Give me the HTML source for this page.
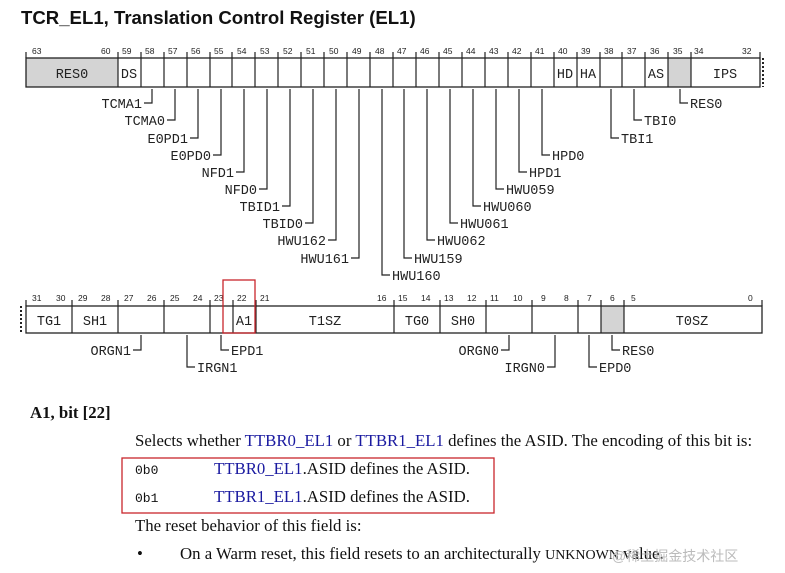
<!DOCTYPE html>
<html><head><meta charset="utf-8"><style>
html,body{margin:0;padding:0;background:#fff;}
body{width:785px;height:573px;overflow:hidden;position:relative;}
.s{font-family:"Liberation Serif",serif;font-size:16.8px;color:#111;position:absolute;white-space:nowrap;}
.l{color:#1a1aa0;}
.m{font-family:"Liberation Mono",monospace;font-size:13px;}
</style></head><body>
<svg width="785" height="573" style="position:absolute;left:0;top:0" xmlns="http://www.w3.org/2000/svg">
<text x="21" y="24" font-family="Liberation Sans,sans-serif" font-weight="bold" font-size="18.6" fill="#111">TCR_EL1, Translation Control Register (EL1)</text>
<g font-family="Liberation Sans,sans-serif" font-size="8.5" fill="#222">
<text x="32" y="54">63</text><text x="101" y="54">60</text><text x="122" y="54">59</text><text x="145" y="54">58</text><text x="168" y="54">57</text><text x="191" y="54">56</text><text x="214" y="54">55</text><text x="237" y="54">54</text><text x="260" y="54">53</text><text x="283" y="54">52</text><text x="306" y="54">51</text><text x="329" y="54">50</text><text x="352" y="54">49</text><text x="375" y="54">48</text><text x="397" y="54">47</text><text x="420" y="54">46</text><text x="443" y="54">45</text><text x="466" y="54">44</text><text x="489" y="54">43</text><text x="512" y="54">42</text><text x="535" y="54">41</text><text x="558" y="54">40</text><text x="581" y="54">39</text><text x="604" y="54">38</text><text x="627" y="54">37</text><text x="650" y="54">36</text><text x="673" y="54">35</text><text x="694" y="54">34</text><text x="742" y="54">32</text>
</g>
<rect x="26" y="58" width="92" height="29" fill="#d4d4d4"/>
<rect x="668" y="58" width="23" height="29" fill="#d4d4d4"/>
<rect x="26" y="58" width="734" height="29" fill="none" stroke="#222" stroke-width="1.3"/>
<g stroke="#222" stroke-width="1.2">
<path d="M118 58V87M141 58V87M164 58V87M187 58V87M210 58V87M232 58V87M255 58V87M278 58V87M301 58V87M324 58V87M347 58V87M370 58V87M393 58V87M416 58V87M439 58V87M462 58V87M485 58V87M508 58V87M531 58V87M554 58V87M577 58V87M600 58V87M622 58V87M645 58V87M668 58V87M691 58V87"/>
<path d="M26 52V58M118 52V58M141 52V58M164 52V58M187 52V58M210 52V58M232 52V58M255 52V58M278 52V58M301 52V58M324 52V58M347 52V58M370 52V58M393 52V58M416 52V58M439 52V58M462 52V58M485 52V58M508 52V58M531 52V58M554 52V58M577 52V58M600 52V58M622 52V58M645 52V58M668 52V58M691 52V58M760 52V58"/>
</g>
<path d="M763 58V87" stroke="#222" stroke-width="2" stroke-dasharray="2,2"/>
<g font-family="Liberation Mono,monospace" font-size="13.5" fill="#222">
<text x="72" y="78" text-anchor="middle">RES0</text><text x="129" y="78" text-anchor="middle">DS</text><text x="565" y="78" text-anchor="middle">HD</text><text x="588" y="78" text-anchor="middle">HA</text><text x="656" y="78" text-anchor="middle">AS</text><text x="725" y="78" text-anchor="middle">IPS</text>
</g>
<g stroke="#222" stroke-width="1.2" fill="none">
<path d="M152 89V103H144M175 89V120H167M198 89V138H190M221 89V155H213M244 89V172H236M267 89V189H259M290 89V206H282M313 89V223H305M336 89V240H328M359 89V258H351"/>
<path d="M382 89V275H390M404 89V258H412M427 89V240H435M450 89V223H458M473 89V206H481M496 89V189H504M519 89V172H527M542 89V155H550M611 89V138H619M634 89V120H642M680 89V103H688"/>
</g>
<g font-family="Liberation Mono,monospace" font-size="13.5" fill="#222" text-anchor="end">
<text x="142" y="108">TCMA1</text><text x="165" y="125">TCMA0</text><text x="188" y="143">E0PD1</text><text x="211" y="160">E0PD0</text><text x="234" y="177">NFD1</text><text x="257" y="194">NFD0</text><text x="280" y="211">TBID1</text><text x="303" y="228">TBID0</text><text x="326" y="245">HWU162</text><text x="349" y="263">HWU161</text>
</g>
<g font-family="Liberation Mono,monospace" font-size="13.5" fill="#222">
<text x="392" y="280">HWU160</text><text x="414" y="263">HWU159</text><text x="437" y="245">HWU062</text><text x="460" y="228">HWU061</text><text x="483" y="211">HWU060</text><text x="506" y="194">HWU059</text><text x="529" y="177">HPD1</text><text x="552" y="160">HPD0</text><text x="621" y="143">TBI1</text><text x="644" y="125">TBI0</text><text x="690" y="108">RES0</text>
</g>
<g font-family="Liberation Sans,sans-serif" font-size="8.5" fill="#222">
<text x="32" y="301">31</text><text x="56" y="301">30</text><text x="78" y="301">29</text><text x="101" y="301">28</text><text x="124" y="301">27</text><text x="147" y="301">26</text><text x="170" y="301">25</text><text x="193" y="301">24</text><text x="214" y="301">23</text><text x="237" y="301">22</text><text x="260" y="301">21</text><text x="377" y="301">16</text><text x="398" y="301">15</text><text x="421" y="301">14</text><text x="444" y="301">13</text><text x="467" y="301">12</text><text x="490" y="301">11</text><text x="513" y="301">10</text><text x="541" y="301">9</text><text x="564" y="301">8</text><text x="587" y="301">7</text><text x="610" y="301">6</text><text x="631" y="301">5</text><text x="748" y="301">0</text>
</g>
<rect x="601" y="306" width="23" height="27" fill="#d4d4d4"/>
<rect x="26" y="306" width="736" height="27" fill="none" stroke="#222" stroke-width="1.3"/>
<g stroke="#222" stroke-width="1.2">
<path d="M72 306V333M118 306V333M164 306V333M210 306V333M233 306V333M256 306V333M394 306V333M440 306V333M486 306V333M532 306V333M578 306V333M601 306V333M624 306V333"/>
<path d="M26 300V306M72 300V306M118 300V306M164 300V306M210 300V306M233 300V306M256 300V306M394 300V306M440 300V306M486 300V306M532 300V306M578 300V306M601 300V306M624 300V306M762 300V306"/>
</g>
<path d="M21 306V333" stroke="#222" stroke-width="2" stroke-dasharray="2,2"/>
<g font-family="Liberation Mono,monospace" font-size="13.5" fill="#222" text-anchor="middle">
<text x="49" y="325">TG1</text><text x="95" y="325">SH1</text><text x="244" y="325">A1</text><text x="325" y="325">T1SZ</text><text x="417" y="325">TG0</text><text x="463" y="325">SH0</text><text x="692" y="325">T0SZ</text>
</g>
<g stroke="#222" stroke-width="1.2" fill="none">
<path d="M141 335V350H133M187 335V367H195M221 335V350H229M509 335V350H501M555 335V367H547M589 335V367H597M612 335V350H620"/>
</g>
<g font-family="Liberation Mono,monospace" font-size="13.5" fill="#222">
<text x="131" y="355" text-anchor="end">ORGN1</text><text x="197" y="372">IRGN1</text><text x="231" y="355">EPD1</text><text x="499" y="355" text-anchor="end">ORGN0</text><text x="545" y="372" text-anchor="end">IRGN0</text><text x="599" y="372">EPD0</text><text x="622" y="355">RES0</text>
</g>
<rect x="223" y="280" width="32" height="53" fill="none" stroke="#c8262c" stroke-width="1.3"/>
<rect x="122" y="458" width="372" height="55" fill="none" stroke="#c8262c" stroke-width="1.3"/>
</svg>
<div class="s" style="left:30px;top:403px;font-weight:bold;">A1, bit [22]</div>
<div class="s" style="left:135px;top:431px;">Selects whether <span class="l">TTBR0_EL1</span> or <span class="l">TTBR1_EL1</span> defines the ASID. The encoding of this bit is:</div>
<div class="s m" style="left:135px;top:463px;">0b0</div>
<div class="s" style="left:214px;top:459px;"><span class="l">TTBR0_EL1</span>.ASID defines the ASID.</div>
<div class="s m" style="left:135px;top:491px;">0b1</div>
<div class="s" style="left:214px;top:487px;"><span class="l">TTBR1_EL1</span>.ASID defines the ASID.</div>
<div class="s" style="left:135px;top:516px;">The reset behavior of this field is:</div>
<div class="s" style="left:137px;top:544px;">•</div>
<div class="s" style="left:180px;top:544px;">On a Warm reset, this field resets to an architecturally <span style="font-size:14px">UNKNOWN</span> value.</div>
<div class="s" style="left:612px;top:546px;color:#bbb;font-family:'Liberation Sans','Noto Sans CJK SC',sans-serif;font-size:14px;">@稀土掘金技术社区</div>
</body></html>
